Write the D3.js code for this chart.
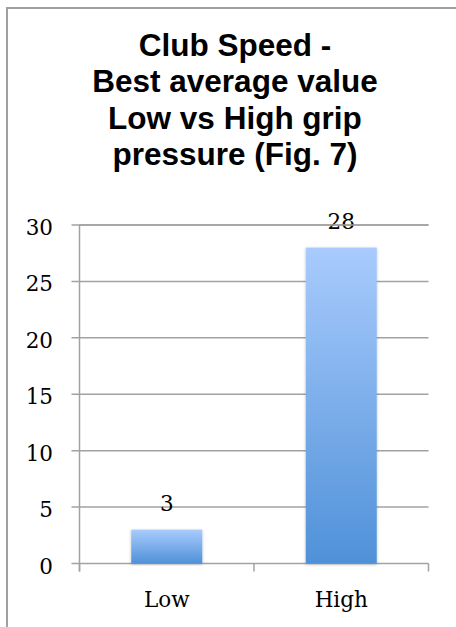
<!DOCTYPE html>
<html>
<head>
<meta charset="utf-8">
<script src="https://cdn.jsdelivr.net/npm/d3@7"></script>
<style>
  html, body { margin: 0; padding: 0; background: #fff; }
  svg { display: block; }
</style>
</head>
<body>
<svg id="chart" width="456" height="627"></svg>
<script>
// Chart data
const categories = ["Low", "High"];
const values = [3, 28];
const yTicks = [0, 5, 10, 15, 20, 25, 30];
const titleLines = ["Club Speed -", "Best average value", "Low vs High grip", "pressure (Fig. 7)"];

const svg = d3.select("#chart");
const W = 456, H = 627;

// Outer frame
svg.append("rect")
  .attr("x", 7).attr("y", 8)
  .attr("width", W + 10).attr("height", H + 10)
  .attr("fill", "#fff")
  .attr("stroke", "#a0a0a0")
  .attr("stroke-width", 2);

// Title
const title = svg.append("text")
  .attr("text-anchor", "middle")
  .attr("font-family", "'Liberation Sans', Arial, sans-serif")
  .attr("font-weight", "bold")
  .attr("font-size", 31.5)
  .attr("fill", "#000");
titleLines.forEach((t, i) => {
  title.append("tspan").attr("x", 235).attr("y", 56 + i * 36.3).text(t);
});

// Scales
const plot = { left: 79.5, right: 428.5, top: 225, bottom: 563.5 };
const x = d3.scaleBand().domain(categories).range([plot.left, plot.right]).padding(0);
const y = d3.scaleLinear().domain([0, 30]).range([plot.bottom, plot.top]);

const defs = svg.append("defs");
const grad = defs.append("linearGradient")
  .attr("id", "barGrad").attr("x1", 0).attr("y1", 0).attr("x2", 0).attr("y2", 1);
grad.append("stop").attr("offset", "0%").attr("stop-color", "#a9cbfd");
grad.append("stop").attr("offset", "100%").attr("stop-color", "#4f91d8");

const shadow = defs.append("filter").attr("id", "barShadow")
  .attr("x", "-20%").attr("y", "-5%").attr("width", "140%").attr("height", "110%");
shadow.append("feDropShadow")
  .attr("dx", 0).attr("dy", 1).attr("stdDeviation", 1.6)
  .attr("flood-color", "#000").attr("flood-opacity", 0.25);

const lineColor = "#a2a2a2";
const serif = "'DejaVu Serif', Cambria, serif";
const labelSize = 21.5;

// Gridlines (extend left as tick marks)
svg.append("g").selectAll("line").data(yTicks).join("line")
  .attr("x1", plot.left - 8).attr("x2", plot.right)
  .attr("y1", d => y(d)).attr("y2", d => y(d))
  .attr("stroke", lineColor).attr("stroke-width", 1.5);

// Vertical axis line
svg.append("line")
  .attr("x1", plot.left).attr("x2", plot.left)
  .attr("y1", y(30)).attr("y2", y(0) + 8)
  .attr("stroke", lineColor).attr("stroke-width", 1.5);

// Category ticks below the baseline
const xTickPos = [plot.left, ...categories.map(c => x(c) + x.bandwidth())];
svg.append("g").selectAll("line").data(xTickPos).join("line")
  .attr("x1", d => d).attr("x2", d => d)
  .attr("y1", y(0)).attr("y2", y(0) + 8)
  .attr("stroke", lineColor).attr("stroke-width", 1.5);

// Y tick labels
svg.append("g").selectAll("text").data(yTicks).join("text")
  .attr("x", 53).attr("y", d => y(d) + 10)
  .attr("text-anchor", "end")
  .attr("font-family", serif).attr("font-size", labelSize)
  .attr("fill", "#000")
  .text(d => d);

// Bars
const barW = x.bandwidth() * 0.407;
svg.append("g").selectAll("rect").data(values).join("rect")
  .attr("x", (d, i) => x(categories[i]) + (x.bandwidth() - barW) / 2)
  .attr("y", d => y(d))
  .attr("width", barW)
  .attr("height", d => y(0) - y(d))
  .attr("fill", "url(#barGrad)")
  .attr("filter", "url(#barShadow)");

// Value labels
svg.append("g").selectAll("text").data(values).join("text")
  .attr("x", (d, i) => x(categories[i]) + x.bandwidth() / 2)
  .attr("y", d => y(d) - 19)
  .attr("text-anchor", "middle")
  .attr("font-family", serif).attr("font-size", labelSize)
  .attr("fill", "#000")
  .text(d => d);

// Top gridline drawn again so it crosses the "28" label
svg.append("line")
  .attr("x1", plot.left).attr("x2", plot.right)
  .attr("y1", y(30)).attr("y2", y(30))
  .attr("stroke", lineColor).attr("stroke-width", 1.5);

// Category labels
svg.append("g").selectAll("text").data(categories).join("text")
  .attr("x", d => x(d) + x.bandwidth() / 2)
  .attr("y", 607)
  .attr("text-anchor", "middle")
  .attr("font-family", serif).attr("font-size", labelSize)
  .attr("fill", "#000")
  .text(d => d);
</script>
</body>
</html>
